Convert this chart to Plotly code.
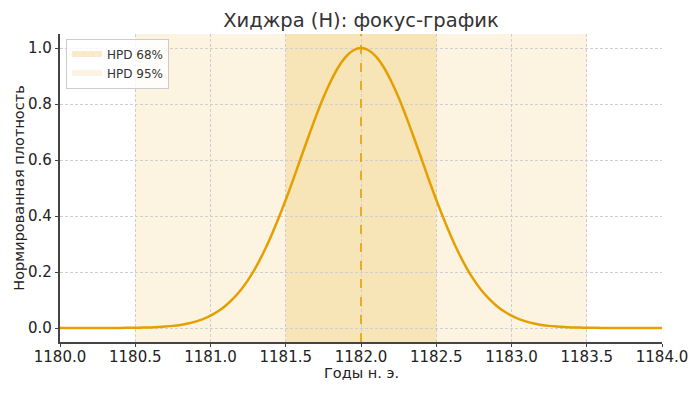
import plotly.graph_objects as go

# ---- data ----
years = [1180.00, 1180.05, 1180.10, 1180.15, 1180.20, 1180.25, 1180.30, 1180.35, 1180.40, 1180.45,
         1180.50, 1180.55, 1180.60, 1180.65, 1180.70, 1180.75, 1180.80, 1180.85, 1180.90, 1180.95,
         1181.00, 1181.05, 1181.10, 1181.15, 1181.20, 1181.25, 1181.30, 1181.35, 1181.40, 1181.45,
         1181.50, 1181.55, 1181.60, 1181.65, 1181.70, 1181.75, 1181.80, 1181.85, 1181.90, 1181.95,
         1182.00, 1182.05, 1182.10, 1182.15, 1182.20, 1182.25, 1182.30, 1182.35, 1182.40, 1182.45,
         1182.50, 1182.55, 1182.60, 1182.65, 1182.70, 1182.75, 1182.80, 1182.85, 1182.90, 1182.95,
         1183.00, 1183.05, 1183.10, 1183.15, 1183.20, 1183.25, 1183.30, 1183.35, 1183.40, 1183.45,
         1183.50, 1183.55, 1183.60, 1183.65, 1183.70, 1183.75, 1183.80, 1183.85, 1183.90, 1183.95,
         1184.00]
density = [0.0, 0.0, 0.0, 0.0, 0.0, 0.0001, 0.0001, 0.0002, 0.0003, 0.0006,
           0.0009, 0.0014, 0.0022, 0.0034, 0.0051, 0.0076, 0.0111, 0.0160, 0.0228, 0.0319,
           0.0439, 0.0596, 0.0796, 0.105, 0.135, 0.172, 0.216, 0.267, 0.325, 0.389,
           0.458, 0.531, 0.607, 0.682, 0.755, 0.823, 0.882, 0.932, 0.969, 0.992,
           1.0, 0.992, 0.969, 0.932, 0.882, 0.823, 0.755, 0.682, 0.607, 0.531,
           0.458, 0.389, 0.325, 0.267, 0.216, 0.172, 0.135, 0.105, 0.0796, 0.0596,
           0.0439, 0.0319, 0.0228, 0.0160, 0.0111, 0.0076, 0.0051, 0.0034, 0.0022, 0.0014,
           0.0009, 0.0006, 0.0003, 0.0002, 0.0001, 0.0001, 0.0, 0.0, 0.0, 0.0,
           0.0]
mode_year = 1182.0
hpd68 = [1181.5, 1182.5]
hpd95 = [1180.5, 1183.5]
band_names = ["HPD 68%", "HPD 95%"]
x_ticks = [1180.0, 1180.5, 1181.0, 1181.5, 1182.0, 1182.5, 1183.0, 1183.5, 1184.0]
y_ticks = [0.0, 0.2, 0.4, 0.6, 0.8, 1.0]

LINE = "#E69F00"
C68 = "rgba(230,159,0,0.18)"
C95 = "rgba(230,159,0,0.12)"
FONT = "DejaVu Sans"
AX = "#444444"
GRID = "#cfcfcf"

fig = go.Figure()

# legend-only patches for the bands
fig.add_trace(go.Scatter(x=[None], y=[None], fill="toself", mode="none",
                         fillcolor="rgba(230,159,0,0.22)", name=band_names[0]))
fig.add_trace(go.Scatter(x=[None], y=[None], fill="toself", mode="none",
                         fillcolor="rgba(230,159,0,0.12)", name=band_names[1]))

fig.add_trace(go.Scatter(x=years, y=density, mode="lines",
                         line=dict(color=LINE, width=2.5, shape="spline", smoothing=1.0),
                         showlegend=False))

fig.add_vrect(x0=hpd95[0], x1=hpd95[1], fillcolor=C95, line_width=0, layer="below")
fig.add_vrect(x0=hpd68[0], x1=hpd68[1], fillcolor=C68, line_width=0, layer="below")
fig.add_vline(x=mode_year, line=dict(color=LINE, width=1.6, dash="dash"))

# page body adds an 8px offset, so the figure is 692x386 placed at (8, 8)
W, H = 692, 386
fig.update_layout(
    width=W, height=H,
    margin=dict(l=52, r=38, t=26, b=52, autoexpand=False),
    paper_bgcolor="white", plot_bgcolor="white",
    font=dict(family=FONT, size=14, color="#222222"),
    title=dict(text="Хиджра (H): фокус-график", x=353 / W, xanchor="center",
               y=1 - 12 / H, yanchor="middle", font=dict(size=19.5, color="#333333")),
    legend=dict(x=0.01, y=0.985, xanchor="left", yanchor="top",
                bgcolor="rgba(255,255,255,0.8)", bordercolor="#cccccc", borderwidth=1,
                font=dict(size=12, color="#333333"), itemwidth=30,
                tracegroupgap=0),
    showlegend=True,
    annotations=[dict(text="Годы н. э.", xref="paper", yref="paper", x=0.5, y=0,
                      xanchor="center", yanchor="middle", yshift=-31, showarrow=False,
                      font=dict(size=14.5, color="#222222"))],
)

fig.update_xaxes(range=[1180.0, 1184.0], tickvals=x_ticks, tickformat=".1f",
                 automargin=False, ticklabelstandoff=-3,
                 showline=True, linecolor=AX, linewidth=1.5,
                 ticks="outside", ticklen=3.5, tickcolor=AX, tickwidth=1.2,
                 showgrid=True, gridcolor=GRID, griddash="3px,2px", gridwidth=0.8,
                 zeroline=False, mirror=False,
                 tickfont=dict(size=15, color="#222222"))
fig.update_yaxes(range=[-0.05, 1.05], tickvals=y_ticks, tickformat=".1f",
                 automargin=False,
                 showline=True, linecolor=AX, linewidth=1.5,
                 ticks="outside", ticklen=3.5, tickcolor=AX, tickwidth=1.2,
                 showgrid=True, gridcolor=GRID, griddash="3px,2px", gridwidth=0.8,
                 zeroline=False, mirror=False,
                 title=dict(text="Нормированная плотность", font=dict(size=14.5), standoff=0),
                 tickfont=dict(size=15, color="#222222"))

fig.write_html("out.html")
